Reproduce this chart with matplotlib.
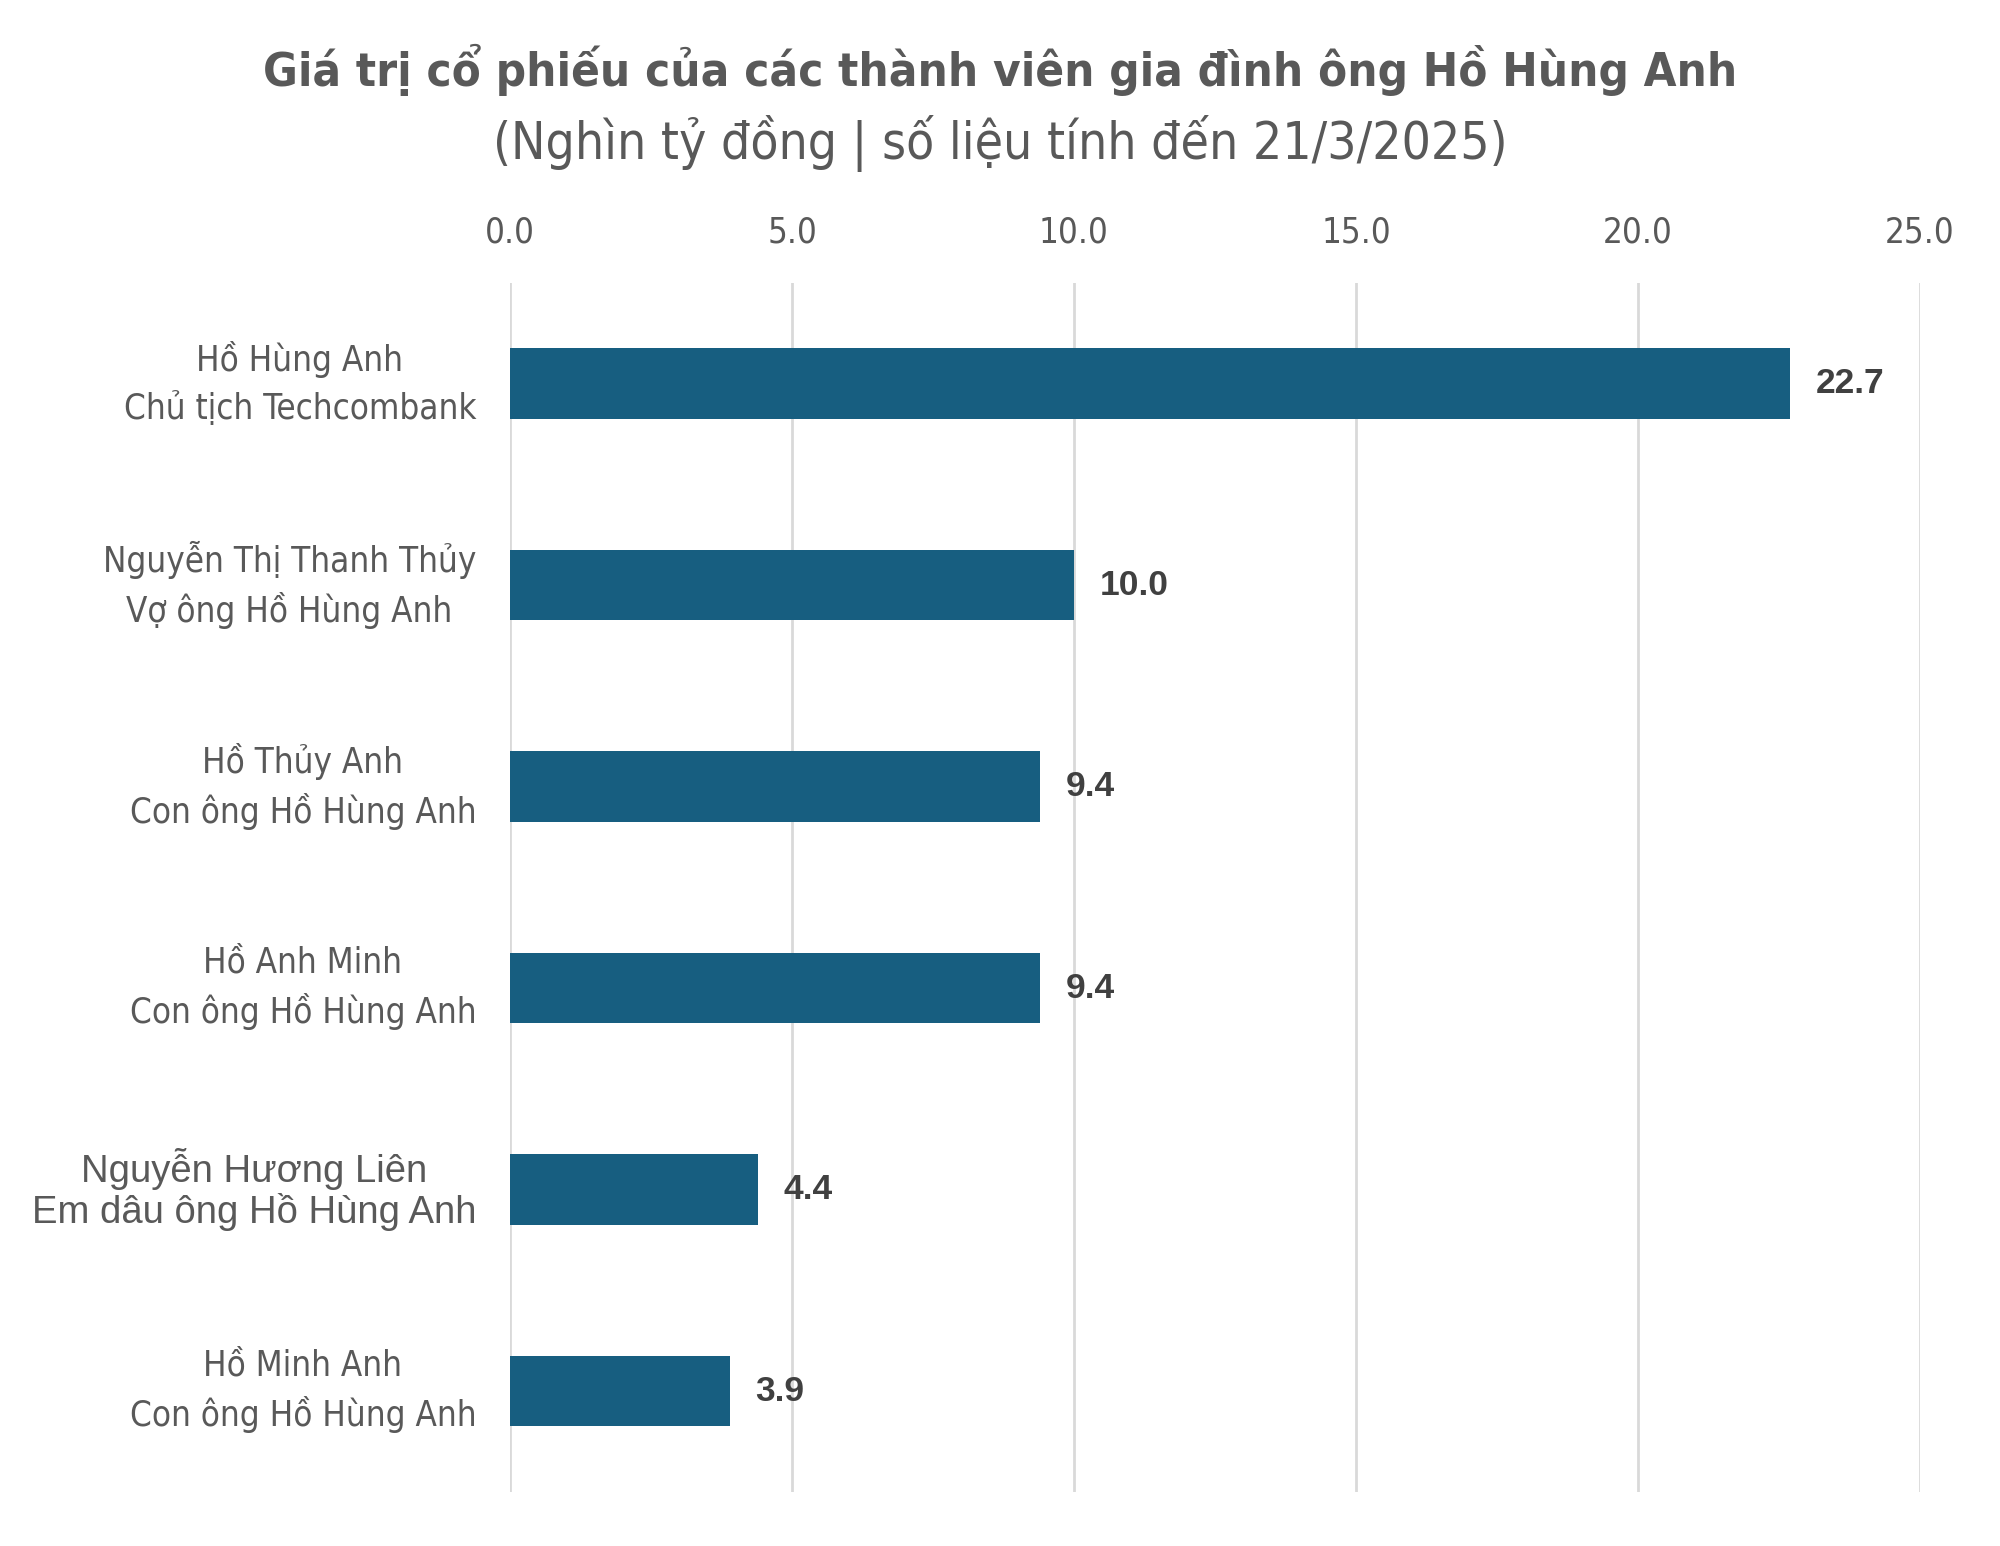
import matplotlib
matplotlib.use("Agg")
import matplotlib.pyplot as plt
from matplotlib import font_manager

# data
names = ["Hồ Hùng Anh\nChủ tịch Techcombank",
         "Nguyễn Thị Thanh Thủy\nVợ ông Hồ Hùng Anh",
         "Hồ Thủy Anh\nCon ông Hồ Hùng Anh",
         "Hồ Anh Minh\nCon ông Hồ Hùng Anh",
         "Nguyễn Hương Liên\nEm dâu ông Hồ Hùng Anh",
         "Hồ Minh Anh\nCon ông Hồ Hùng Anh"]
values = [22.7, 10.0, 9.4, 9.4, 4.4, 3.9]
xticks = [0, 5, 10, 15, 20, 25]

title = "Giá trị cổ phiếu của các thành viên gia đình ông Hồ Hùng Anh"
subtitle = "(Nghìn tỷ đồng | số liệu tính đến 21/3/2025)"

# pick a narrow font if we have one
installed = {f.name for f in font_manager.fontManager.ttflist}
if "Liberation Sans Narrow" in installed:
    narrow = dict(family="Liberation Sans Narrow")
else:
    narrow = dict(family="DejaVu Sans", stretch="condensed")

grey = "#595959"
bar_col = "#175E80"

fig = plt.figure(figsize=(20, 15.46), dpi=100)
ax = fig.add_axes([0.255, 0.035, 0.705, 0.782])

y = list(range(len(values)))
ax.barh(y, values, height=0.35, color=bar_col, zorder=3)
ax.set_ylim(len(values) - 0.5, -0.5)
ax.set_xlim(0, 25)

for yi, v in zip(y, values):
    ax.text(v + 0.45, yi, f"{v:.1f}", va="center", ha="left",
            fontsize=25.5, fontweight="bold", color="#404040",
            family="Liberation Sans")

ax.set_xticks(xticks)
ax.set_xticklabels([f"{t:.1f}" for t in xticks], color=grey, fontsize=25, **narrow)
ax.xaxis.tick_top()
ax.tick_params(axis="x", length=0, pad=24)
ax.grid(axis="x", color="#D9D9D9", linewidth=2, zorder=0)
ax.set_yticks([])
for s in ax.spines.values():
    s.set_visible(False)

for yi, n in zip(y, names):
    if n.startswith("Nguyễn Hương"):
        ax.text(-0.6, yi, n, ha="right", va="center", multialignment="center",
                fontsize=27.5, color=grey, family="Liberation Sans",
                linespacing=1.1)
    else:
        ax.text(-0.6, yi, n, ha="right", va="center", multialignment="center",
                fontsize=25, color=grey, linespacing=1.45, **narrow)

fig.text(0.5, 0.955, title, ha="center", va="center", fontsize=34,
         fontweight="bold", color=grey, **narrow)
fig.text(0.5, 0.907, subtitle, ha="center", va="center", fontsize=37,
         color=grey, **narrow)

fig.savefig("out.png", dpi=100, facecolor="white")
